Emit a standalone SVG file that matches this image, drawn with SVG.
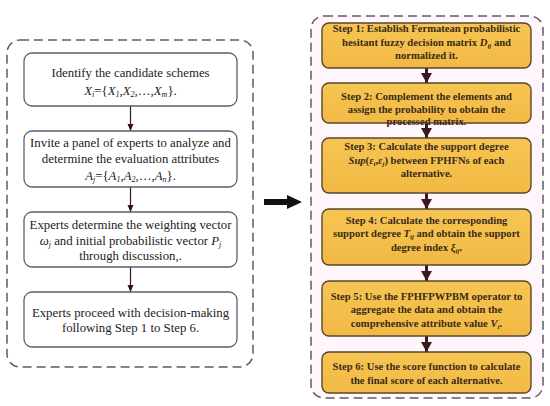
<svg xmlns="http://www.w3.org/2000/svg" width="550" height="406" viewBox="0 0 550 406">
<style>
.cont{fill:none;stroke:#5c5c66;stroke-width:1.5;stroke-dasharray:9,5}
.lbox{fill:#fff;stroke:#5e5e6e;stroke-width:1.3}
.rbox{fill:url(#og);stroke:#5a4630;stroke-width:1.4}
.lt{font-family:"Liberation Serif","Times New Roman",serif;font-size:12.8px;fill:#222;text-anchor:middle}
.rt{font-family:"Liberation Serif","Times New Roman",serif;font-size:10.6px;font-weight:bold;fill:#3a2a1a;text-anchor:middle}
.it{font-style:italic}
.lc{stroke:#2a1a1a;stroke-width:1.2;fill:none}
.rc{stroke:#3a1a1e;stroke-width:3;fill:none}
</style>
<defs>
<linearGradient id="og" x1="0" y1="0" x2="0" y2="1">
<stop offset="0" stop-color="#F6C552"/>
<stop offset="1" stop-color="#F2B944"/>
</linearGradient>
<marker id="la" markerWidth="8" markerHeight="8" refX="7" refY="4" orient="auto" markerUnits="userSpaceOnUse">
<path d="M0,1 L7,4 L0,7 Z" fill="#3a1018"/>
</marker>
<marker id="ra" markerWidth="12" markerHeight="12" refX="10" refY="5.5" orient="auto" markerUnits="userSpaceOnUse">
<path d="M0,0 L10,5.5 L0,11 Z" fill="#3a1a1e"/>
</marker>
</defs>

<rect class="cont" x="7" y="40" width="246" height="327" rx="13"/>
<rect x="311" y="16" width="232" height="382" rx="13" fill="#fef6fb" stroke="#5c5c66" stroke-width="1.5" stroke-dasharray="9,5"/>

<g id="connectors">
<line class="lc" x1="130.5" y1="106" x2="130.5" y2="131" marker-end="url(#la)"/>
<line class="lc" x1="130.5" y1="187" x2="130.5" y2="212" marker-end="url(#la)"/>
<line class="lc" x1="130.5" y1="267" x2="130.5" y2="292" marker-end="url(#la)"/>
<line class="rc" x1="426.5" y1="68" x2="426.5" y2="83" marker-end="url(#ra)"/>
<line class="rc" x1="426.5" y1="123" x2="426.5" y2="138" marker-end="url(#ra)"/>
<line class="rc" x1="426.5" y1="193" x2="426.5" y2="209" marker-end="url(#ra)"/>
<line class="rc" x1="426.5" y1="265" x2="426.5" y2="281" marker-end="url(#ra)"/>
<line class="rc" x1="426.5" y1="336" x2="426.5" y2="352" marker-end="url(#ra)"/>
<g id="bigarrow">
<rect x="264" y="199" width="24" height="6" fill="#111"/>
<path d="M287,195 L302,202 L287,209 Z" fill="#111"/>
</g>
</g>

<g id="l1">
<rect class="lbox" x="24" y="53" width="213" height="53" rx="8"/>
<text class="lt" x="130.5" y="77">Identify the candidate schemes</text>
<text class="lt" x="130.5" y="95"><tspan class="it">X</tspan><tspan class="it" font-size="8" dy="2">i</tspan><tspan dy="-2">={</tspan><tspan class="it">X</tspan><tspan class="it" font-size="8" dy="2">1</tspan><tspan dy="-2">,</tspan><tspan class="it">X</tspan><tspan class="it" font-size="8" dy="2">2</tspan><tspan dy="-2">,…,</tspan><tspan class="it">X</tspan><tspan class="it" font-size="8" dy="2">m</tspan><tspan dy="-2">}.</tspan></text>
</g>
<g id="l2">
<rect class="lbox" x="24" y="131" width="213" height="56" rx="8"/>
<text class="lt" x="130.5" y="147">Invite a panel of experts to analyze and</text>
<text class="lt" x="130.5" y="163">determine the evaluation attributes</text>
<text class="lt" x="130.5" y="180"><tspan class="it">A</tspan><tspan class="it" font-size="8" dy="2">j</tspan><tspan dy="-2">={</tspan><tspan class="it">A</tspan><tspan class="it" font-size="8" dy="2">1</tspan><tspan dy="-2">,</tspan><tspan class="it">A</tspan><tspan class="it" font-size="8" dy="2">2</tspan><tspan dy="-2">,…,</tspan><tspan class="it">A</tspan><tspan class="it" font-size="8" dy="2">n</tspan><tspan dy="-2">}.</tspan></text>
</g>
<g id="l3">
<rect class="lbox" x="24" y="212" width="213" height="55" rx="8"/>
<text class="lt" x="130.5" y="229">Experts determine the weighting vector</text>
<text class="lt" x="130.5" y="245"><tspan class="it">ω</tspan><tspan class="it" font-size="8" dy="2">j</tspan><tspan dy="-2"> and initial probabilistic vector </tspan><tspan class="it">P</tspan><tspan class="it" font-size="8" dy="2">j</tspan></text>
<text class="lt" x="130.5" y="260">through discussion,.</text>
</g>
<g id="l4">
<rect class="lbox" x="24" y="292" width="213" height="55" rx="8"/>
<text class="lt" x="130.5" y="317">Experts proceed with decision-making</text>
<text class="lt" x="130.5" y="332">following Step 1 to Step 6.</text>
</g>

<g id="s1">
<rect class="rbox" x="322" y="23" width="209" height="45" rx="7"/>
<text class="rt" x="426.5" y="32">Step 1: Establish Fermatean probabilistic</text>
<text class="rt" x="426.5" y="46">hesitant fuzzy decision matrix <tspan class="it">D</tspan><tspan class="it" font-size="7" dy="2">ij</tspan><tspan dy="-2"> and</tspan></text>
<text class="rt" x="426.5" y="59">normalized it.</text>
</g>
<g id="s2">
<rect class="rbox" x="322" y="83" width="209" height="40" rx="7"/>
<text class="rt" x="426.5" y="100">Step 2: Complement the elements and</text>
<text class="rt" x="426.5" y="113">assign the probability to obtain the</text>
<text class="rt" x="426.5" y="125">processed matrix.</text>
</g>
<g id="s3">
<rect class="rbox" x="322" y="138" width="209" height="55" rx="7"/>
<text class="rt" x="426.5" y="150">Step 3: Calculate the support degree</text>
<text class="rt" x="426.5" y="164"><tspan class="it">Sup</tspan>(<tspan class="it">ε</tspan><tspan class="it" font-size="7" dy="2">i</tspan><tspan dy="-2">,</tspan><tspan class="it">ε</tspan><tspan class="it" font-size="7" dy="2">j</tspan><tspan dy="-2">) between FPHFNs of each</tspan></text>
<text class="rt" x="426.5" y="177">alternative.</text>
</g>
<g id="s4">
<rect class="rbox" x="322" y="209" width="209" height="56" rx="7"/>
<text class="rt" x="426.5" y="224">Step 4: Calculate the corresponding</text>
<text class="rt" x="426.5" y="237">support degree <tspan class="it">T</tspan><tspan class="it" font-size="7" dy="2">ij</tspan><tspan dy="-2"> and obtain the support</tspan></text>
<text class="rt" x="426.5" y="251">degree index <tspan class="it">ξ</tspan><tspan class="it" font-size="7" dy="2">ij</tspan><tspan dy="-2">.</tspan></text>
</g>
<g id="s5">
<rect class="rbox" x="322" y="281" width="209" height="55" rx="7"/>
<text class="rt" x="426.5" y="300">Step 5: Use the  FPHFPWPBM operator to</text>
<text class="rt" x="426.5" y="313">aggregate the data and obtain the</text>
<text class="rt" x="426.5" y="327">comprehensive attribute value <tspan class="it">V</tspan><tspan class="it" font-size="7" dy="2">i</tspan><tspan dy="-2">.</tspan></text>
</g>
<g id="s6">
<rect class="rbox" x="322" y="352" width="209" height="41" rx="7"/>
<text class="rt" x="426.5" y="370">Step 6: Use the score function to calculate</text>
<text class="rt" x="426.5" y="384">the final score of each alternative.</text>
</g>
</svg>
